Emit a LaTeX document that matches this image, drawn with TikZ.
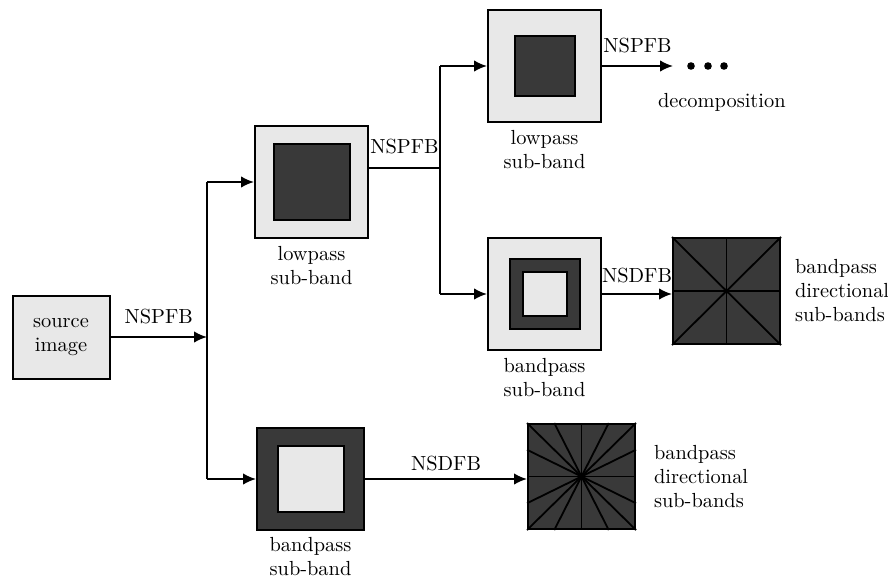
\documentclass[tikz,border=0pt]{standalone}
\usetikzlibrary{positioning,calc,arrows.meta}

\definecolor{bandlight}{HTML}{E8E8E8}
\definecolor{banddark}{HTML}{393939}

\tikzset{
    lightsq/.style={draw, line width=1pt, fill=bandlight, inner sep=0pt},
    darksq/.style={draw, line width=1pt, fill=banddark, inner sep=0pt},
    lab/.style={align=center, font=\fontsize{10.2}{12}\selectfont, inner sep=1pt},
    leftlab/.style={lab, align=left},
    dirline/.style={line width=0.9pt},
}

\begin{document}
\begin{tikzpicture}[x=0.5pt, y=-0.5pt, line width=1pt, >={Latex[length=6.5pt,width=5.8pt]}]
        \useasboundingbox (0,0) rectangle (888,579);

        %boxes
        \node[lightsq, lab, minimum width=48.5pt, minimum height=41.5pt] (src) at (61,337) {source\\image};

        \node[lightsq, minimum width=56.5pt, minimum height=56pt] (lp1) at (311.5,182) {};
        \node[darksq, minimum size=38pt] (lp1in) at (lp1.center) {};

        \node[lightsq, minimum width=56.5pt, minimum height=56pt] (lp2) at (544.5,66) {};
        \node[darksq, minimum size=30pt] (lp2in) at (lp2.center) {};

        \node[lightsq, minimum width=56.5pt, minimum height=56pt] (bp2) at (544.5,294) {};
        \node[darksq, minimum size=35pt] (bp2mid) at (bp2.center) {};
        \node[lightsq, minimum size=22pt] (bp2in) at (bp2.center) {};

        \node[darksq, minimum width=53.5pt, minimum height=51pt] (bp1) at (310.5,479) {};
        \node[lightsq, minimum size=33pt] (bp1in) at (bp1.center) {};

        %directional squares
        \node[darksq, minimum width=53.5pt, minimum height=53pt] (dir1) at (726.5,291) {};
        \foreach \f in {0,0.5,1}
            \draw[dirline] ($(dir1.north west)!\f!(dir1.north east)$) -- ($(dir1.south east)!\f!(dir1.south west)$);
        \draw[dirline] (dir1.west) -- (dir1.east);

        \node[darksq, minimum width=53.5pt, minimum height=52.5pt] (dir2) at (581.5,476.5) {};
        \foreach \f in {0,0.25,0.5,0.75,1}
            \draw[dirline] ($(dir2.north west)!\f!(dir2.north east)$) -- ($(dir2.south east)!\f!(dir2.south west)$);
        \foreach \f in {0.25,0.5,0.75}
            \draw[dirline] ($(dir2.north west)!\f!(dir2.south west)$) -- ($(dir2.south east)!\f!(dir2.north east)$);

        %labels
        \node[lab, below=2pt of lp1] (lp1lab) {lowpass\\sub-band};
        \node[lab, below=2pt of lp2] (lp2lab) {lowpass\\sub-band};
        \node[lab, below=2pt of bp2] (bp2lab) {bandpass\\sub-band};
        \node[lab, below=1.5pt of bp1] (bp1lab) {bandpass\\sub-band};
        \node[leftlab, right=5.5pt of dir1] (dir1lab) {bandpass\\directional\\sub-bands};
        \node[leftlab, right=7.5pt of dir2] (dir2lab) {bandpass\\directional\\sub-bands};

        %dots
        \foreach \x [count=\i] in {691,708,724}
            \node[circle, fill, inner sep=0pt, minimum size=3.8pt] (d\i) at (\x,66) {};
        \node[lab, anchor=west] (decomp) at (655,102) {decomposition};
        \coordinate (dend) at (673,66);

        %junctions
        \coordinate (j1) at (207,337);
        \coordinate (j2) at (440,168);

        %arrows
        \draw[->] (src.east) -- (j1) node[midway, above=5pt, lab]{NSPFB};
        \draw (j1 |- lp1.west) -- (j1 |- bp1.west);
        \draw[->] (j1 |- lp1.west) -- (lp1.west);
        \draw[->] (j1 |- bp1.west) -- (bp1.west);

        \draw ([yshift=7pt]lp1.east) -- (j2) node[midway, above=5.5pt, lab]{NSPFB};
        \draw (j2 |- lp2.west) -- (j2 |- bp2.west);
        \draw[->] (j2 |- lp2.west) -- (lp2.west);
        \draw[->] (j2 |- bp2.west) -- (bp2.west);

        \draw[->] (lp2.east) -- (dend) node[midway, above=5pt, lab]{NSPFB};
        \draw[->] (bp2.east) -- (bp2.east -| dir1.west) node[midway, above=4pt, lab]{NSDFB};
        \draw[->] (bp1.east) -- (bp1.east -| dir2.west) node[midway, above=2.5pt, lab]{NSDFB};
    \end{tikzpicture}
\end{document}
